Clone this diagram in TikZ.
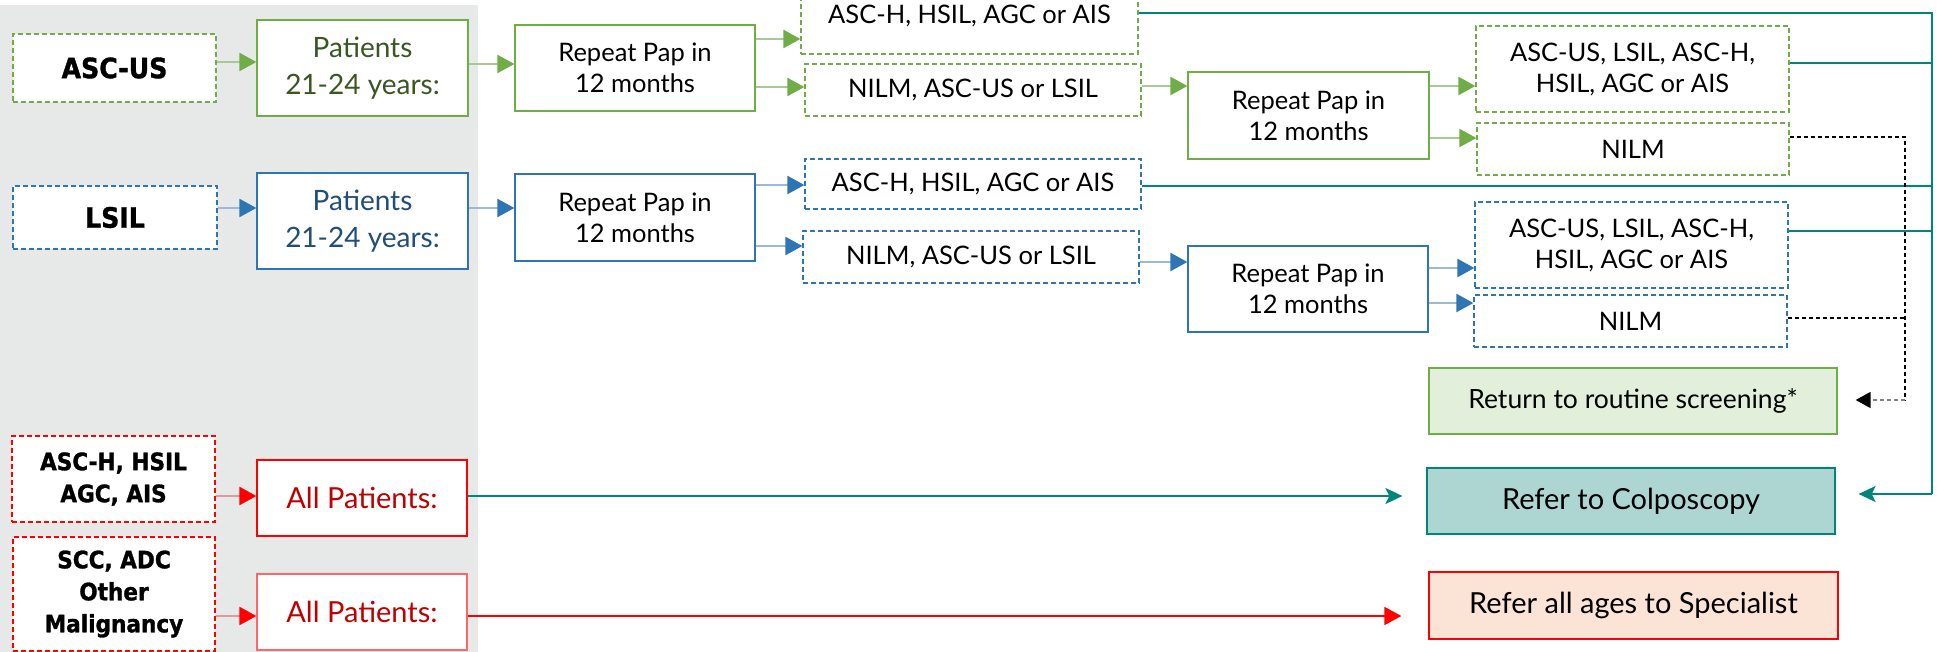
\documentclass[tikz,border=0pt]{standalone}
\usepackage{fontspec}
\setmainfont{Lato}
\newfontfamily\tah[FakeStretch=0.9,FakeBold=1.2]{DejaVu Sans}
\usetikzlibrary{arrows.meta,calc}
\definecolor{gbor}{HTML}{70AD47}
\definecolor{gtxt}{HTML}{385723}
\definecolor{gshaft}{HTML}{A8C995}
\definecolor{bbor}{HTML}{2E75B6}
\definecolor{btxt}{HTML}{1F4E79}
\definecolor{bshaft}{HTML}{9DB9D5}
\definecolor{rbor}{HTML}{FF0000}
\definecolor{rtxt}{HTML}{C00000}
\definecolor{rshaft}{HTML}{E09A9A}
\definecolor{tealc}{HTML}{00857A}
\definecolor{panel}{HTML}{E7E9E8}
\definecolor{retfill}{HTML}{E2EFDA}
\definecolor{colfill}{HTML}{ADD6D3}
\definecolor{specfill}{HTML}{FBE3D6}
\tikzset{
  box/.style={draw, line width=1.2pt, fill=white, align=center, inner sep=0pt},
  dbox/.style={box, dash pattern=on 5pt off 3pt},
  lftfont/.style={font=\tah\bfseries\fontsize{28}{34}\selectfont},
  redfont/.style={font=\tah\bfseries\fontsize{24}{32}\selectfont},
  patfont/.style={font=\fontsize{28}{37}\selectfont},
  midfont/.style={font=\fontsize{25.5}{31}\selectfont},
  retfont/.style={font=\fontsize{26.5}{31}\selectfont},
  bigfont/.style={font=\fontsize{29}{35}\selectfont},
  garr/.style={draw=gshaft, line width=2.2pt, -{Triangle[length=17pt,width=18pt,color=gbor]}},
  barr/.style={draw=bshaft, line width=2.2pt, -{Triangle[length=17pt,width=18pt,color=bbor]}},
  rarr/.style={draw=rshaft, line width=2.2pt, -{Triangle[length=17pt,width=18pt,color=rbor]}},
  rlong/.style={draw=rbor, line width=1.6pt, -{Triangle[length=17pt,width=18pt]}},
  tline/.style={draw=tealc, line width=2pt},
  tarr/.style={draw=tealc, line width=2pt, -{Stealth[length=17pt,width=16pt,inset=4pt]}},
  kdash/.style={draw=black, line width=1.4pt, dash pattern=on 4pt off 3pt},
  karr/.style={draw=gray, line width=1.6pt, dash pattern=on 4pt off 3pt, -{Triangle[length=15pt,width=16pt,color=black]}},
}
\begin{document}
\begin{tikzpicture}[x=1pt,y=-1pt]
\useasboundingbox (0,0) rectangle (1937,652);
\fill[panel] (0,5) rectangle (478,652);

% green row
\node[dbox, draw=gbor, lftfont, minimum width=203pt, minimum height=68pt] (asc) at (114.5,68) {ASC-US};
\node[box, draw=gbor, patfont, text=gtxt, minimum width=211pt, minimum height=96pt] (pg) at (362.5,68) {Patients\\21-24 years:};
\node[box, draw=gbor, midfont, minimum width=240pt, minimum height=86pt] (rg) at (635,68) {Repeat Pap in\\12 months};
\node[dbox, draw=gbor, midfont, minimum width=337pt, minimum height=76pt] (ag1) at (969.5,16) {ASC-H, HSIL, AGC or AIS};
\node[dbox, draw=gbor, midfont, minimum width=336pt, minimum height=52pt] (ng1) at (973,90) {NILM, ASC-US or LSIL};
\node[box, draw=gbor, midfont, minimum width=241pt, minimum height=87pt] (rg2) at (1308.5,115.5) {Repeat Pap in\\12 months};
\node[dbox, draw=gbor, midfont, minimum width=313pt, minimum height=86pt] (ag2) at (1632.5,69) {ASC-US, LSIL, ASC-H,\\HSIL, AGC or AIS};
\node[dbox, draw=gbor, midfont, minimum width=312pt, minimum height=52pt] (ngn) at (1633,149) {NILM};

% blue row
\node[dbox, draw=bbor, lftfont, minimum width=204pt, minimum height=63pt] (lsil) at (115,217.5) {LSIL};
\node[box, draw=bbor, patfont, text=btxt, minimum width=211pt, minimum height=96pt] (pb) at (362.5,221) {Patients\\21-24 years:};
\node[box, draw=bbor, midfont, minimum width=240pt, minimum height=87pt] (rb) at (635,217.5) {Repeat Pap in\\12 months};
\node[dbox, draw=bbor, midfont, minimum width=336pt, minimum height=50pt] (ab1) at (973,184) {ASC-H, HSIL, AGC or AIS};
\node[dbox, draw=bbor, midfont, minimum width=336pt, minimum height=52pt] (nb1) at (971,257) {NILM, ASC-US or LSIL};
\node[box, draw=bbor, midfont, minimum width=240pt, minimum height=86pt] (rb2) at (1308,289) {Repeat Pap in\\12 months};
\node[dbox, draw=bbor, midfont, minimum width=313pt, minimum height=86pt] (ab2) at (1631.5,245) {ASC-US, LSIL, ASC-H,\\HSIL, AGC or AIS};
\node[dbox, draw=bbor, midfont, minimum width=313pt, minimum height=52pt] (nb2) at (1630.5,321) {NILM};

% red rows
\node[dbox, draw=rbor, redfont, minimum width=203pt, minimum height=86pt] (ahs) at (113.5,479) {ASC-H, HSIL\\AGC, AIS};
\node[box, draw=rbor, bigfont, text=rtxt, minimum width=210pt, minimum height=76pt] (ap1) at (362,498) {All Patients:};
\node[dbox, draw=rbor, redfont, minimum width=202pt, minimum height=114pt] (scc) at (114,594) {SCC, ADC\\Other\\Malignancy};
\node[box, draw=rbor!60, bigfont, text=rtxt, minimum width=210pt, minimum height=76pt] (ap2) at (362,612) {All Patients:};

% outcome boxes
\node[box, draw=gbor, fill=retfill, retfont, minimum width=408pt, minimum height=66pt] (ret) at (1633,401) {Return to routine screening*};
\node[box, draw=tealc, fill=colfill, bigfont, minimum width=408pt, minimum height=66pt] (col) at (1631,501) {Refer to Colposcopy};
\node[box, draw=rbor, fill=specfill, bigfont, minimum width=409pt, minimum height=67pt] (spec) at (1633.5,605.5) {Refer all ages to Specialist};

\coordinate (vx) at (1932,494);
\coordinate (dx) at (1905,400);

% green arrows
\draw[garr] ([yshift=6pt]asc.east) -- ([yshift=6pt]asc.east -| pg.west);
\draw[garr] ([yshift=4pt]pg.east) -- ([yshift=4pt]pg.east -| rg.west);
\draw[garr] ([yshift=29pt]rg.east) -- ([yshift=29pt]rg.east -| ag1.west);
\draw[garr] ([yshift=-19pt]rg.east) -- ([yshift=-19pt]rg.east -| ng1.west);
\draw[garr] ([yshift=4pt]ng1.east) -- ([yshift=4pt]ng1.east -| rg2.west);
\draw[garr] ([yshift=29.5pt]rg2.east) -- ([yshift=29.5pt]rg2.east -| ag2.west);
\draw[garr] ([yshift=-22.5pt]rg2.east) -- ([yshift=-22.5pt]rg2.east -| ngn.west);

% blue arrows
\draw[barr] ([yshift=9.5pt]lsil.east) -- ([yshift=9.5pt]lsil.east -| pb.west);
\draw[barr] ([yshift=13pt]pb.east) -- ([yshift=13pt]pb.east -| rb.west);
\draw[barr] ([yshift=32.5pt]rb.east) -- ([yshift=32.5pt]rb.east -| ab1.west);
\draw[barr] ([yshift=-28.5pt]rb.east) -- ([yshift=-28.5pt]rb.east -| nb1.west);
\draw[barr] ([yshift=-5pt]nb1.east) -- ([yshift=-5pt]nb1.east -| rb2.west);
\draw[barr] ([yshift=21pt]rb2.east) -- ([yshift=21pt]rb2.east -| ab2.west);
\draw[barr] ([yshift=-14pt]rb2.east) -- ([yshift=-14pt]rb2.east -| nb2.west);

% red arrows
\draw[rarr] ([yshift=-17pt]ahs.east) -- ([yshift=-17pt]ahs.east -| ap1.west);
\draw[rarr] ([yshift=-22pt]scc.east) -- ([yshift=-22pt]scc.east -| ap2.west);
\draw[rlong, shorten >=27pt] ([yshift=-4pt]ap2.east) -- ([yshift=-4pt]ap2.east -| spec.west);

% teal connectors
\draw[tarr, shorten >=24pt] ([yshift=2pt]ap1.east) -- ([yshift=2pt]ap1.east -| col.west);
\draw[tline] ([yshift=3pt]ag1.east) -| (vx);
\draw[tline] ([yshift=6pt]ag2.east) -- ([yshift=6pt]ag2.east -| vx);
\draw[tline] ([yshift=-2pt]ab1.east) -- ([yshift=-2pt]ab1.east -| vx);
\draw[tline] ([yshift=14pt]ab2.east) -- ([yshift=14pt]ab2.east -| vx);
\draw[tarr, shorten >=23pt] (vx) -- (vx -| col.east);

% black dashed connectors
\draw[kdash] ([yshift=12pt]ngn.east) -| (dx);
\draw[kdash] ([yshift=3pt]nb2.east) -- ([yshift=3pt]nb2.east -| dx);
\draw[karr, shorten >=18pt] (dx) -- (dx -| ret.east);
\end{tikzpicture}
\end{document}
